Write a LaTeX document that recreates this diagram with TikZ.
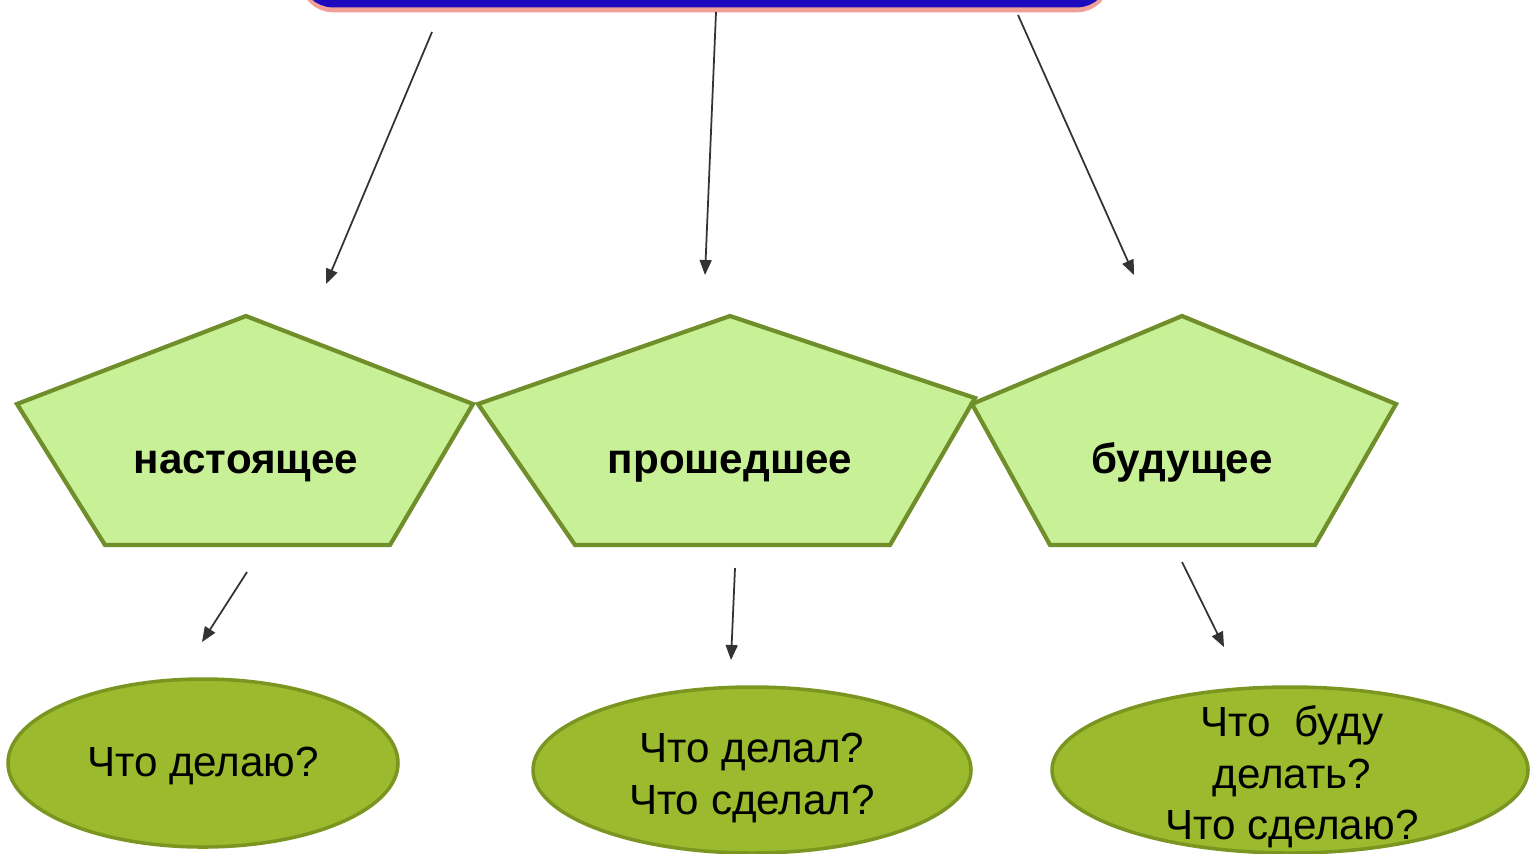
\documentclass[tikz,border=0pt]{standalone}
\usepackage{fontspec}
\setmainfont{Liberation Sans}
\usetikzlibrary{arrows.meta,shapes.geometric}
\definecolor{penfill}{RGB}{200,240,150}
\definecolor{pendraw}{RGB}{112,142,42}
\definecolor{ovfill}{RGB}{155,186,46}
\definecolor{ovdraw}{RGB}{122,150,32}
\definecolor{boxblue}{RGB}{30,10,190}
\definecolor{boxglow}{RGB}{240,160,150}
\tikzstyle{tense} = [draw=pendraw, fill=penfill, line width=1.2pt, line join=miter]
\tikzstyle{tenselabel} = [anchor=base, font=\fontsize{12}{14.7}\selectfont\bfseries]
\tikzstyle{question} = [ellipse, draw=ovdraw, fill=ovfill, line width=1pt, inner sep=0pt]
\tikzstyle{qtext} = [align=center, font=\fontsize{12}{14.7}\selectfont]
\tikzstyle{link} = [-{Triangle[length=1.5mm,width=1.2mm]}, line width=0.5pt, black!80]

\begin{document}
\begin{tikzpicture}%
	\useasboundingbox (0,0) rectangle (15.34,8.53);%
	\clip (0,0) rectangle (15.34,8.53);%
	% top box, only its lower edge is visible
	\draw[boxglow, line width=3pt, rounded corners=8pt] (3.05,8.46) rectangle (11.05,9.5);%
	\draw[boxblue, line width=2.5pt, rounded corners=8pt] (3.05,8.50) rectangle (11.05,9.5);%
	% pentagons
	\draw[tense] (2.46,5.37) -- (4.73,4.49) -- (3.90,3.08) -- (1.05,3.08) -- (0.17,4.49) -- cycle;%
	\draw[tense] (7.30,5.37) -- (9.75,4.55) -- (8.90,3.08) -- (5.75,3.08) -- (4.78,4.49) -- cycle;%
	\draw[tense] (11.82,5.37) -- (13.96,4.49) -- (13.15,3.08) -- (10.50,3.08) -- (9.72,4.49) -- cycle;%
	\node[tenselabel] (now) at (2.46,3.80) {настоящее};%
	\node[tenselabel] (past) at (7.30,3.80) {прошедшее};%
	\node[tenselabel] (future) at (11.82,3.80) {будущее};%
	% questions
	\node[question, minimum width=3.9cm, minimum height=1.68cm] (qnow) at (2.03,0.90) {};%
	\node[question, minimum width=4.38cm, minimum height=1.66cm] (qpast) at (7.52,0.83) {};%
	\node[question, minimum width=4.76cm, minimum height=1.66cm] (qfuture) at (12.90,0.83) {};%
	\node[qtext] at (2.03,0.87) {Что делаю?};%
	\node[qtext] at (7.52,0.75) {Что делал?\\Что сделал?};%
	\node[qtext] at (12.92,0.76) {Что~~буду\\делать?\\Что сделаю?};%
	% arrow ends
	\coordinate (t1) at (4.32,8.21);  \coordinate (h1) at (3.26,5.69);%
	\coordinate (t2) at (7.16,8.41);  \coordinate (h2) at (7.05,5.78);%
	\coordinate (t3) at (10.18,8.38); \coordinate (h3) at (11.34,5.78);%
	\coordinate (t4) at (2.47,2.81);  \coordinate (h4) at (2.02,2.11);%
	\coordinate (t5) at (7.35,2.85);  \coordinate (h5) at (7.31,1.93);%
	\coordinate (t6) at (11.82,2.91); \coordinate (h6) at (12.24,2.06);%
	\foreach \a/\b in {t1/h1, t2/h2, t3/h3, t4/h4, t5/h5, t6/h6}%
		\draw[link] (\a) -- (\b);%
\end{tikzpicture}
\end{document}
